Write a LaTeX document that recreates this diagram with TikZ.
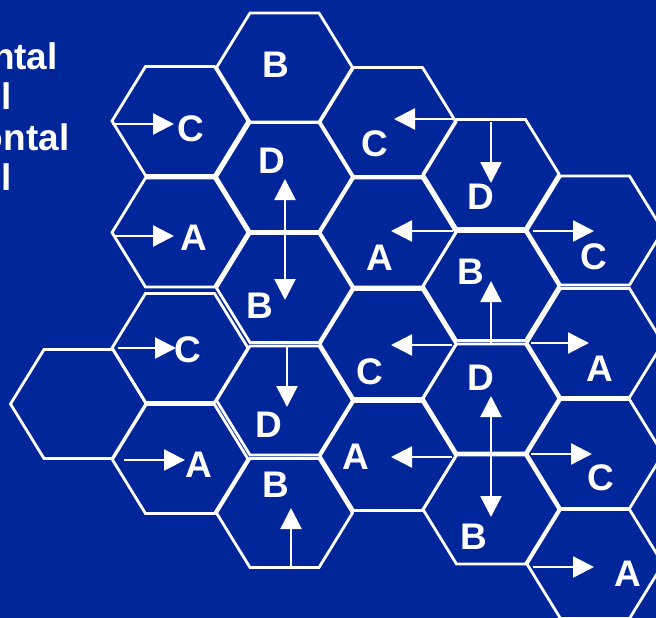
\documentclass[tikz,border=0pt]{standalone}
\usepackage{fontspec}
\setmainfont{Liberation Sans}
\usetikzlibrary{arrows.meta}
\definecolor{bgblue}{RGB}{0,38,154}
\begin{document}
\begin{tikzpicture}[x=1pt,y=-1pt,
  hexline/.style={draw=white,line width=2.8pt,line join=miter},
  arr/.style={draw=white,line width=2.4pt,-{Triangle[length=21pt,width=21pt]}},
  darr/.style={draw=white,line width=2.4pt,{Triangle[length=21pt,width=21pt]}-{Triangle[length=21pt,width=21pt]}},
  lbl/.style={text=white,font=\fontsize{37}{40}\selectfont\bfseries,inner sep=0pt},
  side/.style={text=white,font=\fontsize{37}{40}\selectfont\bfseries,inner sep=0pt,anchor=base east},
  hexa/.pic={\path[hexline] (-68,0) -- (-34.5,-54.5) -- (34.5,-54.5) -- (68,0) -- (34.5,54.5) -- (-34.5,54.5) -- cycle;}
]
\fill[bgblue] (0,0) rectangle (656,618);
\useasboundingbox (0,0) rectangle (656,618);
\clip (0,0) rectangle (656,618);

% side texts (cut by the picture edge)
\node[side] (t1) at (58,70) {ntal};
\node[side] (t2) at (12,110) {l};
\node[side] (t3) at (69.5,150) {ontal};
\node[side] (t4) at (12,190) {l};

% hexagons
\pic at (78.5,404) {hexa};
\foreach \y in {121,232.5,348,459} {\pic at (180,\y) {hexa};}
\foreach \y in {67.5,177,288,400.5,513} {\pic at (284.5,\y) {hexa};}
\foreach \y in {122,232.5,344,456} {\pic at (388,\y) {hexa};}
\foreach \y in {174,286,398.5,509.5} {\pic at (491,\y) {hexa};}
\foreach \y in {230.5,343,454,564} {\pic at (595,\y) {hexa};}

% letters
\node[lbl] (l1) at (191,129) {C};
\node[lbl] (l2) at (276,65) {B};
\node[lbl] (l3) at (271.5,160.5) {D};
\node[lbl] (l4) at (260,306) {B};
\node[lbl] (l5) at (375,144) {C};
\node[lbl] (l6) at (481,197) {D};
\node[lbl] (l7) at (380,258) {A};
\node[lbl] (l8) at (471,272) {B};
\node[lbl] (l9) at (594,257) {C};
\node[lbl] (l10) at (193.5,238) {A};
\node[lbl] (l11) at (188,350) {C};
\node[lbl] (l12) at (268.5,425) {D};
\node[lbl] (l13) at (369.5,372) {C};
\node[lbl] (l14) at (481,378) {D};
\node[lbl] (l15) at (599.5,369) {A};
\node[lbl] (l16) at (199,465) {A};
\node[lbl] (l17) at (356,457) {A};
\node[lbl] (l18) at (601,477.5) {C};
\node[lbl] (l19) at (275.5,485) {B};
\node[lbl] (l20) at (473.5,536.5) {B};
\node[lbl] (l21) at (628,573.5) {A};

% arrow end points
\coordinate (a1s) at (112,124);   \coordinate (a1e) at (174,124);
\coordinate (a2s) at (285,179);   \coordinate (a2e) at (285,300);
\coordinate (a3s) at (455,119);   \coordinate (a3e) at (394,119);
\coordinate (a4s) at (491,122);   \coordinate (a4e) at (491,183);
\coordinate (a5s) at (113,236);   \coordinate (a5e) at (174,236);
\coordinate (a6s) at (453,231);   \coordinate (a6e) at (391,231);
\coordinate (a7s) at (533,231);   \coordinate (a7e) at (594,231);
\coordinate (a8s) at (491,343);   \coordinate (a8e) at (491,281);
\coordinate (a9s) at (118,348);   \coordinate (a9e) at (176,348);
\coordinate (a10s) at (287,347);  \coordinate (a10e) at (287,407);
\coordinate (a11s) at (452,345);  \coordinate (a11e) at (391,345);
\coordinate (a12s) at (491,396);  \coordinate (a12e) at (491,517);
\coordinate (a13s) at (531,343);  \coordinate (a13e) at (589,343);
\coordinate (a14s) at (124,460);  \coordinate (a14e) at (185,460);
\coordinate (a15s) at (452,457);  \coordinate (a15e) at (391,457);
\coordinate (a16s) at (531,454);  \coordinate (a16e) at (592,454);
\coordinate (a17s) at (291,567);  \coordinate (a17e) at (291,508);
\coordinate (a18s) at (533,567);  \coordinate (a18e) at (594,567);

\draw[arr] (a1s) -- (a1e);
\draw[darr] (a2s) -- (a2e);
\draw[arr] (a3s) -- (a3e);
\draw[arr] (a4s) -- (a4e);
\draw[arr] (a5s) -- (a5e);
\draw[arr] (a6s) -- (a6e);
\draw[arr] (a7s) -- (a7e);
\draw[arr] (a8s) -- (a8e);
\draw[arr] (a9s) -- (a9e);
\draw[arr] (a10s) -- (a10e);
\draw[arr] (a11s) -- (a11e);
\draw[darr] (a12s) -- (a12e);
\draw[arr] (a13s) -- (a13e);
\draw[arr] (a14s) -- (a14e);
\draw[arr] (a15s) -- (a15e);
\draw[arr] (a16s) -- (a16e);
\draw[arr] (a17s) -- (a17e);
\draw[arr] (a18s) -- (a18e);
\end{tikzpicture}
\end{document}
